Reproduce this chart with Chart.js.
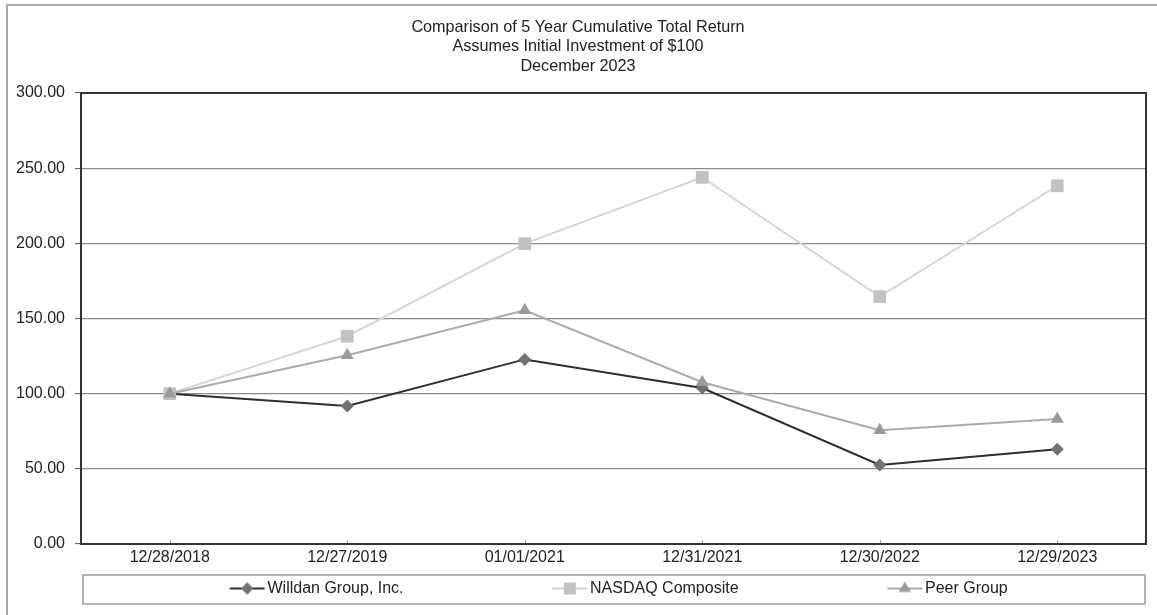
<!DOCTYPE html>
<html>
<head>
<meta charset="utf-8">
<script src="https://cdn.jsdelivr.net/npm/chart.js@4.4.1/dist/chart.umd.min.js"></script>
<style>
  html, body { margin: 0; padding: 0; background: #fff; }
  #wrap { position: relative; width: 1157px; height: 615px; }
</style>
</head>
<body>
<div id="wrap"><canvas id="c"></canvas></div>
<script>
// ---- data ----
const titleLines = ['Comparison of 5 Year Cumulative Total Return', 'Assumes Initial Investment of $100', 'December 2023'];
const categories = ['12/28/2018', '12/27/2019', '01/01/2021', '12/31/2021', '12/30/2022', '12/29/2023'];
const seriesNames = ['Willdan Group, Inc.', 'NASDAQ Composite', 'Peer Group'];
const willdan = [100, 91.8, 122.8, 103.8, 52.6, 63.0];
const nasdaq = [100, 138.2, 199.8, 243.9, 164.6, 238.3];
const peer = [100, 125.5, 155.5, 107.6, 75.7, 83.1];
const yTicks = [0, 50, 100, 150, 200, 250, 300];

// ---- styles ----
const FONT = "'Liberation Sans', Arial, sans-serif";
const styles = [
  { line: '#2e2e2e', marker: '#717171', point: 'rectRot', r: 6.5 },
  { line: '#d6d6d6', marker: '#c2c2c2', point: 'rect', r: 9 },
  { line: '#ababab', marker: '#9a9a9a', point: 'triangle', r: 7.5 }
];
const LEG_BOX = 172.5;
const LEG_PAD = 6;

function makeLegendImage(st) {
  const W = LEG_BOX + 12, H = 22;
  const c = document.createElement('canvas');
  c.width = W; c.height = H;
  const ctx = c.getContext('2d');
  ctx.strokeStyle = st.line; ctx.lineWidth = 2;
  ctx.beginPath(); ctx.moveTo(W - 36, H / 2); ctx.lineTo(W - 1, H / 2); ctx.stroke();
  ctx.fillStyle = st.marker; ctx.strokeStyle = st.marker;
  Chart.helpers.drawPoint(ctx, { pointStyle: st.point, radius: st.r * 0.95, borderWidth: 0, rotation: 0 }, W - 18.5, H / 2);
  return c;
}
const legendImages = styles.map(makeLegendImage);

const frames = {
  id: 'frames',
  beforeDraw(chart) {
    const ctx = chart.ctx;
    ctx.save();
    ctx.strokeStyle = '#a8a8a8'; ctx.lineWidth = 2;
    ctx.beginPath();
    ctx.moveTo(7, 615); ctx.lineTo(7, 5); ctx.lineTo(1157, 5);
    ctx.stroke();
    ctx.restore();
  },
  beforeDatasetsDraw(chart) {
    const { ctx, chartArea: a, scales } = chart;
    ctx.save();
    ctx.strokeStyle = '#999'; ctx.lineWidth = 1;
    const xs = scales.x;
    xs.ticks.forEach((t, i) => {
      const px = Math.round(xs.getPixelForTick(i)) + 0.5;
      ctx.beginPath(); ctx.moveTo(px, a.bottom); ctx.lineTo(px, a.bottom - 4); ctx.stroke();
    });
    ctx.strokeStyle = '#333'; ctx.lineWidth = 2;
    ctx.strokeRect(a.left, a.top, a.right - a.left, a.bottom - a.top);
    ctx.restore();
  },
  afterDraw(chart) {
    const { ctx, chartArea: a, legend } = chart;
    ctx.save();
    ctx.strokeStyle = '#9c9c9c'; ctx.lineWidth = 1.5;
    ctx.strokeRect(a.left + 2, legend.top + 0.5, a.right - a.left - 3, 29);
    ctx.restore();
  }
};

const defaultGen = Chart.defaults.plugins.legend.labels.generateLabels;

new Chart(document.getElementById('c'), {
  type: 'line',
  data: {
    labels: categories,
    datasets: [willdan, nasdaq, peer].map((d, i) => ({
      label: seriesNames[i],
      data: d,
      borderColor: styles[i].line,
      backgroundColor: styles[i].marker,
      borderWidth: 2,
      pointStyle: styles[i].point,
      pointRadius: styles[i].r,
      pointHoverRadius: styles[i].r,
      pointBackgroundColor: styles[i].marker,
      pointBorderColor: styles[i].marker,
      pointBorderWidth: 0,
      tension: 0,
      fill: false,
      order: 3 - i
    }))
  },
  options: {
    responsive: true,
    maintainAspectRatio: false,
    animation: false,
    devicePixelRatio: 1,
    layout: { padding: { left: 10, right: 11, top: 0, bottom: 8.5 } },
    plugins: {
      title: {
        display: true,
        text: titleLines,
        color: '#222',
        font: { family: FONT, size: 16.2, weight: 'normal', lineHeight: 1.2 },
        padding: { top: 17.5, bottom: 17.2 }
      },
      legend: {
        display: true,
        position: 'bottom',
        align: 'start',
        fullSize: false,
        labels: {
          usePointStyle: true,
          pointStyleWidth: LEG_BOX,
          padding: LEG_PAD,
          color: '#222',
          font: { family: FONT, size: 16 },
          sort: (a, b) => a.datasetIndex - b.datasetIndex,
          generateLabels: (chart) => defaultGen(chart).map(it => ({ ...it, pointStyle: legendImages[it.datasetIndex], lineWidth: 0 }))
        }
      },
      tooltip: { enabled: false }
    },
    scales: {
      x: {
        offset: true,
        grid: { display: false, drawTicks: false },
        border: { display: false },
        ticks: { color: '#222', font: { family: FONT, size: 16 }, padding: 4, maxRotation: 0, autoSkip: false },
        afterFit: s => { s.height = 30.5; }
      },
      y: {
        min: 0, max: 300,
        afterBuildTicks: s => { s.ticks = yTicks.map(v => ({ value: v })); },
        grid: { color: '#8c8c8c', lineWidth: 1.2, tickLength: 6, tickColor: '#555', tickWidth: 1 },
        border: { display: false },
        ticks: { color: '#222', font: { family: FONT, size: 16 }, padding: 10, callback: v => Number(v).toFixed(2) },
        afterFit: s => { s.width = 71; }
      }
    }
  },
  plugins: [frames]
});
</script>
</body>
</html>
